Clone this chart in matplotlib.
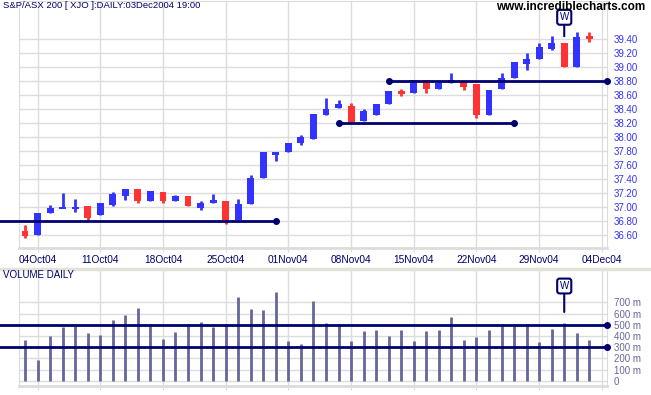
import numpy as np
import matplotlib.pyplot as plt

plt.rcParams['font.family'] = ['Liberation Sans', 'DejaVu Sans']

# Daily OHLC, S&P/ASX 200, 01 Oct 2004 .. 03 Dec 2004
opens = [36.66, 36.60, 36.92, 36.98, 36.97, 37.01, 36.88, 37.03, 37.16, 37.26,
         37.08, 37.22, 37.09, 37.16, 36.98, 37.06, 37.09, 36.81, 37.04, 37.41,
         37.76, 37.79, 37.92, 37.97, 38.32, 38.42, 38.44, 38.23, 38.32, 38.47,
         38.65, 38.63, 38.82, 38.69, 38.77, 38.80, 38.76, 38.32, 38.68, 38.84,
         39.04, 39.12, 39.26, 39.35, 39.00, 39.44]
highs = [36.74, 36.92, 37.03, 37.20, 37.12, 37.01, 37.06, 37.21, 37.25, 37.26,
         37.23, 37.22, 37.17, 37.16, 37.09, 37.18, 37.09, 37.12, 37.46, 37.79,
         37.78, 37.92, 38.03, 38.33, 38.56, 38.53, 38.49, 38.40, 38.47, 38.66,
         38.68, 38.82, 38.82, 38.80, 38.91, 38.80, 38.76, 38.67, 38.92, 39.07,
         39.20, 39.35, 39.45, 39.35, 39.50, 39.50]
lows = [36.55, 36.60, 36.91, 36.98, 36.93, 36.81, 36.88, 37.02, 37.10, 37.05,
        37.08, 37.06, 37.08, 37.01, 36.96, 37.06, 36.75, 36.81, 37.04, 37.41,
        37.66, 37.79, 37.89, 37.97, 38.31, 38.41, 38.22, 38.23, 38.31, 38.47,
        38.58, 38.63, 38.63, 38.68, 38.77, 38.67, 38.27, 38.31, 38.68, 38.84,
        38.96, 39.12, 39.25, 39.00, 39.00, 39.36]
closes = [36.58, 36.92, 36.98, 36.99, 37.00, 36.84, 37.06, 37.18, 37.25, 37.08,
          37.23, 37.08, 37.16, 37.01, 37.06, 37.10, 36.81, 37.04, 37.41, 37.78,
          37.77, 37.92, 38.00, 38.33, 38.40, 38.47, 38.22, 38.37, 38.47, 38.66,
          38.61, 38.82, 38.69, 38.77, 38.81, 38.72, 38.31, 38.67, 38.84, 39.07,
          39.12, 39.28, 39.34, 39.00, 39.43, 39.40]
# volume in millions
volumes = [364, 185, 399, 480, 489, 426, 408, 542, 587, 649,
           489, 373, 435, 507, 525, 480, 507, 748, 641, 632,
           793, 355, 328, 712, 516, 510, 355, 444, 453, 399,
           453, 355, 444, 453, 569, 364, 390, 453, 489, 489,
           507, 346, 462, 516, 426, 364]

tick_pos = [1, 6, 11, 16, 21, 26, 31, 36, 41, 46]
tick_labels = ['04Oct04', '11Oct04', '18Oct04', '25Oct04', '01Nov04',
               '08Nov04', '15Nov04', '22Nov04', '29Nov04', '04Dec04']
price_ticks = np.round(np.arange(36.6, 39.41, 0.2), 2)
vol_ticks = [0, 100, 200, 300, 400, 500, 600, 700]
vol_labels = ['0', '100 m', '200 m', '300 m', '400 m', '500 m', '600 m', '700 m']

navy = '#00006E'
grid_c = '#DCDCDC'
up_c, down_c = '#3333FF', '#FF3333'

W, H = 651, 395
fig = plt.figure(figsize=(W / 100, H / 100), dpi=100)
ax = fig.add_axes([19 / W, 1 - 248 / H, 588 / W, 247 / H])
axv = fig.add_axes([19 / W, 1 - 386 / H, 588 / W, 117 / H])

x = np.arange(len(opens))
o, h, l, c = map(np.array, (opens, highs, lows, closes))
cols = np.where(c >= o, up_c, down_c)

# candles
ax.vlines(x, l, h, colors=cols, lw=2, zorder=3)
body_lo = np.minimum(o, c)
body_h = np.maximum(np.abs(c - o), 0.04)
ax.bar(x, body_h, bottom=body_lo - (body_h - np.abs(c - o)) / 2, width=0.55,
       color=cols, zorder=4)

# support / resistance lines
ax.plot([-2, 20], [36.80, 36.80], color=navy, lw=2, clip_on=False, zorder=5)
ax.plot([20], [36.80], 'o', color=navy, ms=4, zorder=5)
ax.plot([25, 39], [38.20, 38.20], color=navy, lw=2, marker='o', ms=4, zorder=5)
ax.plot([29, 46.41], [38.80, 38.80], color=navy, lw=2, marker='o', ms=4,
        clip_on=False, zorder=5)

ax.set_xlim(-0.48, 46.41)
ax.set_ylim(36.414, 39.943)
ax.set_yticks(price_ticks)
ax.set_yticklabels(['%.2f' % v for v in price_ticks])
ax.yaxis.tick_right()
ax.set_xticks(tick_pos)
ax.set_xticklabels(tick_labels)
ax.tick_params(axis='y', length=0, pad=5, labelsize=7, labelcolor='#3333EE')
ax.tick_params(axis='x', length=3, color=grid_c, pad=2, labelsize=7.3,
               labelcolor=navy)
ax.grid(True, color=grid_c, lw=1)
ax.set_axisbelow(True)
for s in ax.spines.values():
    s.set_color(grid_c)
ax.spines['bottom'].set_linewidth(2)

ax.annotate('W', xy=(43, 39.44), xytext=(43, 39.71), ha='center', va='center',
            fontsize=7, color=navy,
            bbox=dict(boxstyle='round,pad=0.25', fc='white', ec=navy, lw=1.5),
            arrowprops=dict(arrowstyle='-', color=navy, lw=1.5,
                            shrinkA=0, shrinkB=0), zorder=6)

# volume
axv.vlines(x, 0, volumes, colors='#66669A', lw=2, zorder=3)
axv.plot([-2, 46.41], [500, 500], color=navy, lw=2, clip_on=False, zorder=5)
axv.plot([-2, 46.41], [300, 300], color=navy, lw=2, clip_on=False, zorder=5)
axv.plot([46.41, 46.41], [500, 300], 'o', color=navy, ms=4, clip_on=False, zorder=5)
axv.set_xlim(-0.48, 46.41)
axv.set_ylim(-47, 998)
axv.set_yticks(vol_ticks)
axv.set_yticklabels(vol_labels)
axv.yaxis.tick_right()
axv.set_xticks(tick_pos)
axv.set_xticklabels([])
axv.tick_params(axis='y', length=0, pad=5, labelsize=7, labelcolor='#666699')
axv.tick_params(axis='x', length=3, color=grid_c)
axv.grid(True, color=grid_c, lw=1)
axv.set_axisbelow(True)
for s in axv.spines.values():
    s.set_color(grid_c)
axv.spines['top'].set_visible(False)
axv.spines['bottom'].set_linewidth(2)
axv.annotate('W', xy=(43, 614), xytext=(43, 846), ha='center', va='center',
             fontsize=7, color=navy,
             bbox=dict(boxstyle='round,pad=0.25', fc='white', ec=navy, lw=1.5),
             arrowprops=dict(arrowstyle='-', color=navy, lw=1.5,
                             shrinkA=0, shrinkB=0), zorder=6)

fig.add_artist(plt.Line2D([0, 1], [1 - 268.5 / H] * 2, color='#E2E2D8', lw=2.5))
fig.text(3 / W, 1 - 6 / H, 'S&P/ASX 200 [ XJO ]:DAILY:03Dec2004 19:00',
         fontsize=6.8, color=navy, va='center', ha='left')
fig.text(645 / W, 1 - 7 / H, 'www.incrediblecharts.com', fontsize=8.5,
         fontweight='bold', color='black', va='center', ha='right')
fig.text(3 / W, 1 - 275 / H, 'VOLUME DAILY', fontsize=7, color=navy,
         va='center', ha='left')

fig.savefig('out.png', dpi=100)
